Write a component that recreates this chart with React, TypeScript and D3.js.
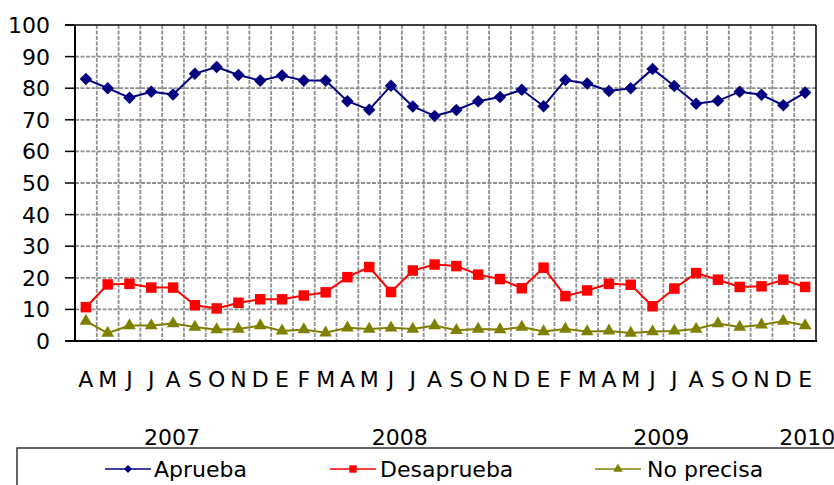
import React from "react";
import * as d3 from "d3";

const months = ["A","M","J","J","A","S","O","N","D","E","F","M","A","M","J","J","A","S","O","N","D","E","F","M","A","M","J","J","A","S","O","N","D","E"];
const years = [
  { label: "2007", at: 3.95 },
  { label: "2008", at: 14.4 },
  { label: "2009", at: 26.4 },
  { label: "2010", at: 33.1 },
];
const aprueba = [82.9, 80.0, 77.0, 78.9, 78.0, 84.6, 86.7, 84.2, 82.4, 84.0, 82.4, 82.4, 75.9, 73.2, 80.8, 74.2, 71.2, 73.1, 75.9, 77.2, 79.5, 74.3, 82.6, 81.5, 79.1, 80.0, 86.1, 80.7, 75.1, 76.0, 78.9, 77.9, 74.6, 78.6];
const desaprueba = [10.7, 17.9, 18.1, 16.9, 16.9, 11.3, 10.3, 12.1, 13.2, 13.2, 14.4, 15.4, 20.2, 23.4, 15.5, 22.3, 24.2, 23.7, 21.0, 19.6, 16.7, 23.2, 14.2, 16.0, 18.1, 17.8, 11.0, 16.6, 21.5, 19.4, 17.1, 17.3, 19.4, 17.1];
const noPrecisa = [6.3, 2.5, 4.9, 4.9, 5.5, 4.4, 3.6, 3.8, 4.9, 3.2, 3.6, 2.6, 4.2, 3.8, 4.2, 3.8, 4.9, 3.4, 3.8, 3.6, 4.4, 3.0, 3.8, 3.0, 3.2, 2.5, 3.0, 3.2, 3.8, 5.5, 4.4, 5.1, 6.3, 4.9];
const yTicks = [0, 10, 20, 30, 40, 50, 60, 70, 80, 90, 100];

const seriesDefs = [
  { name: "Aprueba", values: aprueba, color: "#000080", symbol: d3.symbolDiamond2, size: 100, legendSize: 40 },
  { name: "Desaprueba", values: desaprueba, color: "#FF0000", symbol: d3.symbolSquare, size: 110, legendSize: 55 },
  { name: "No precisa", values: noPrecisa, color: "#808000", symbol: d3.symbolTriangle, size: 70, legendSize: 40 },
];

const FONT = "DejaVu Sans, Verdana, sans-serif";
const FS = 22;

export default function App() {
  const W = 834, H = 485;
  const left = 75, right = 816, top = 25, bottom = 341;
  const idx = months.map((_, i) => i);
  const x = d3.scaleBand<number>().domain(idx).range([left, right]);
  const cx = (i: number) => (x(i) as number) + x.bandwidth() / 2;
  const posAt = (a: number) => left + (a + 0.5) * x.bandwidth();
  const y = d3.scaleLinear().domain([0, 100]).range([bottom, top]);
  const line = d3.line<number>().x((_, i) => cx(i)).y((d) => y(d));

  const legendItems = [
    { lx: 105, tx: 154 },
    { lx: 330, tx: 380 },
    { lx: 595, tx: 647 },
  ];

  return (
    <svg width={W} height={H} style={{ position: "absolute", left: 0, top: 0, background: "#fff" }} fontFamily={FONT}>
      <rect x={0} y={0} width={W} height={H} fill="#fff" />
      {yTicks.filter((t) => t > 0 && t < 100).map((t) => (
        <line key={"h" + t} x1={left} x2={right} y1={y(t)} y2={y(t)} stroke="#8f8f8f" strokeWidth={1.8} strokeDasharray="4 1.5" />
      ))}
      {idx.slice(1).map((i) => (
        <line key={"v" + i} x1={x(i) as number} x2={x(i) as number} y1={top} y2={bottom} stroke="#8f8f8f" strokeWidth={1.8} strokeDasharray="4 1.5" />
      ))}
      <line x1={left - 10} x2={right} y1={top} y2={top} stroke="#000" strokeWidth={1.5} />
      <line x1={right} x2={right} y1={top} y2={bottom} stroke="#000" strokeWidth={1.5} />
      <line x1={left} x2={left} y1={top} y2={bottom + 1} stroke="#000" strokeWidth={2} />
      <line x1={left - 10} x2={right + 1} y1={bottom} y2={bottom} stroke="#000" strokeWidth={2} />
      {yTicks.map((t) => (
        <g key={"t" + t}>
          <line x1={left - 10} x2={left} y1={y(t)} y2={y(t)} stroke="#000" strokeWidth={1.5} />
          <text x={50} y={y(t)} dy="0.36em" textAnchor="end" fontSize={FS} fill="#000">{t}</text>
        </g>
      ))}
      {seriesDefs.map((s) => (
        <g key={s.name}>
          <path d={line(s.values) || ""} fill="none" stroke={s.color} strokeWidth={2} />
          {s.values.map((v, i) => (
            <path key={i} d={d3.symbol().type(s.symbol).size(s.size)() || ""} transform={`translate(${cx(i)},${y(v)})`} fill={s.color} />
          ))}
        </g>
      ))}
      {months.map((m, i) => (
        <text key={"m" + i} x={cx(i)} y={387} textAnchor="middle" fontSize={FS} fill="#000">{m}</text>
      ))}
      {years.map((yr) => (
        <text key={yr.label} x={posAt(yr.at)} y={445} textAnchor="middle" fontSize={FS} fill="#000">{yr.label}</text>
      ))}
      <rect x={17} y={448} width={900} height={100} fill="none" stroke="#000" strokeWidth={1.2} />
      {seriesDefs.map((s, k) => (
        <g key={"l" + s.name}>
          <line x1={legendItems[k].lx} x2={legendItems[k].lx + 46} y1={469} y2={469} stroke={s.color} strokeWidth={1.5} />
          <path d={d3.symbol().type(s.symbol).size(s.legendSize)() || ""} transform={`translate(${legendItems[k].lx + 23},469)`} fill={s.color} />
          <text x={legendItems[k].tx} y={477} fontSize={FS} fill="#000">{s.name}</text>
        </g>
      ))}
    </svg>
  );
}
